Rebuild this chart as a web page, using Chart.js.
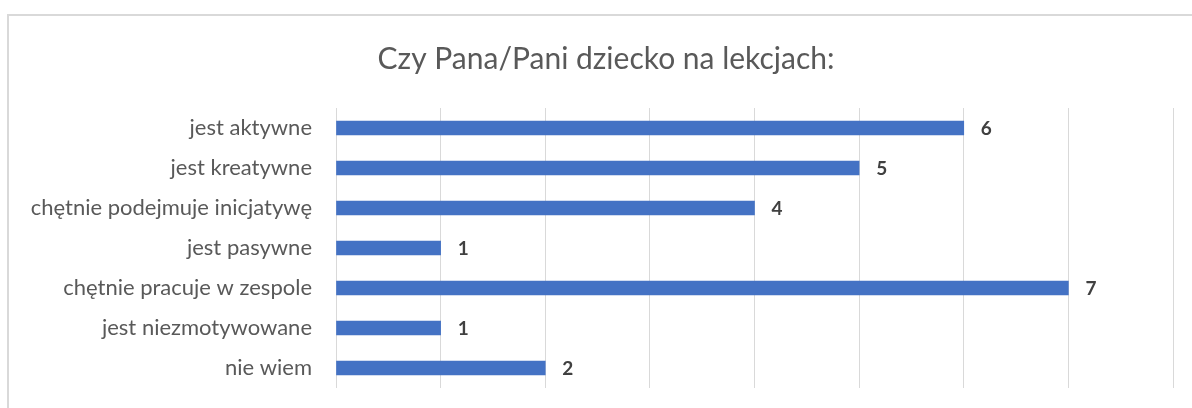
<!DOCTYPE html>
<html>
<head>
<meta charset="utf-8">
<script src="https://cdn.jsdelivr.net/npm/chart.js@4.4.1/dist/chart.umd.min.js"></script>
<style>
  html, body { margin: 0; padding: 0; background: #fff; }
  #wrap { position: relative; width: 1192px; height: 408px; overflow: hidden; }
  #frame { position: absolute; left: 7px; top: 14px; width: 1300px; height: 500px;
           border-top: 2px solid #d9d9d9; border-left: 2px solid #d9d9d9; box-sizing: border-box; }
  canvas { position: absolute; left: 0; top: 0; }
</style>
</head>
<body>
<div id="wrap">
  <div id="frame"></div>
  <canvas id="c" width="1192" height="408"></canvas>
</div>
<script>
const titleText = "Czy Pana/Pani dziecko na lekcjach:";
const categories = [
  "jest aktywne",
  "jest kreatywne",
  "chętnie podejmuje inicjatywę",
  "jest pasywne",
  "chętnie pracuje w zespole",
  "jest niezmotywowane",
  "nie wiem"
];
const values = [6, 5, 4, 1, 7, 1, 2];
const xMin = 0, xMax = 8, xStep = 1;

const FONT = "Lato, 'Open Sans', sans-serif";

const valueLabels = {
  id: 'valueLabels',
  afterDatasetsDraw(chart) {
    const ctx = chart.ctx;
    const meta = chart.getDatasetMeta(0);
    ctx.save();
    ctx.font = "bold 19px " + FONT;
    ctx.fillStyle = "#404040";
    ctx.textAlign = "left";
    ctx.textBaseline = "middle";
    meta.data.forEach((bar, i) => {
      ctx.fillText(String(values[i]), bar.x + 17, bar.y + 1);
    });
    ctx.restore();
  }
};

new Chart(document.getElementById('c'), {
  type: 'bar',
  data: {
    labels: categories,
    datasets: [{
      data: values,
      backgroundColor: '#4472C4',
      barThickness: 14,
      xAxisID: 'x',
      yAxisID: 'y'
    }]
  },
  options: {
    indexAxis: 'y',
    responsive: false,
    animation: false,
    layout: { padding: { left: 20, right: 0, top: 0, bottom: 20 } },
    plugins: {
      legend: { display: false },
      tooltip: { enabled: false },
      title: {
        display: true,
        text: titleText,
        color: '#595959',
        font: { family: FONT, size: 30, weight: 'normal' },
        padding: { top: 41, bottom: 31 }
      }
    },
    scales: {
      x: {
        min: xMin, max: xMax,
        ticks: { display: false, stepSize: xStep },
        grid: { color: '#d9d9d9', lineWidth: 1, drawTicks: false },
        border: { display: false },
        afterFit(scale) { scale.height = 0; }
      },
      y: {
        ticks: { color: '#595959', font: { family: FONT, size: 22 }, padding: 24 },
        grid: { display: false, drawTicks: false },
        border: { display: false },
        afterFit(scale) { scale.width = 316; scale.paddingTop = 0; scale.paddingBottom = 0; }
      },
      yRight: {
        type: 'linear',
        axis: 'y',
        position: 'right',
        ticks: { display: false },
        grid: { display: false, drawTicks: false },
        border: { display: false },
        afterFit(scale) { scale.width = 19; scale.paddingTop = 0; scale.paddingBottom = 0; }
      }
    }
  },
  plugins: [valueLabels]
});
</script>
</body>
</html>
